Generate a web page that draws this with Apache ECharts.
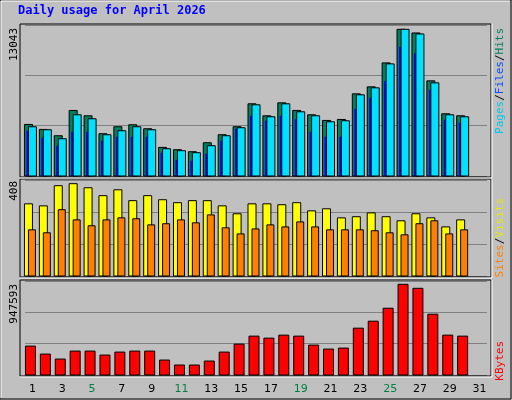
<!DOCTYPE html>
<html><head><meta charset="utf-8">
<script src="https://cdn.jsdelivr.net/npm/echarts@6/dist/echarts.min.js"></script>
<style>html,body{margin:0;padding:0;background:#c0c0c0}#c{width:512px;height:400px}</style>
</head><body><div id="c"></div>
<script>
const days = Array.from({length:31},(_,i)=>String(i+1));
const weekend = ['4','5','11','12','18','19','25','26'];
const hits = [4585,4141,3579,5827,5354,3757,4378,4555,4200,2544,2337,2159,2958,3668,4378,6419,5354,6507,5827,5443,4940,5028,7306,7927,10057,13043,12719,8459,5531,5354];
const files = [4378,4111,3313,5443,5088,3668,4023,4378,4111,2425,2248,2071,2692,3579,4289,6330,5265,6419,5709,5354,4821,4910,7217,7839,9968,13043,12630,8282,5443,5265];
const pages = [4023,3402,2692,3934,3934,3135,3490,3490,3490,2071,1449,1361,1982,3135,4200,5354,4910,5354,5088,3934,3490,3490,5975,6951,8459,11477,10915,7661,4999,4733];
const sites = [319,310,399,408,390,355,381,333,355,337,324,333,333,310,275,319,319,315,324,288,297,257,262,279,262,244,275,257,217,248];
const visits = [204,191,293,248,222,248,257,253,226,231,248,235,270,213,186,208,226,217,239,217,204,204,204,200,191,182,231,244,186,204];
const kbytes = [301977,218673,166608,249912,249912,208260,239499,249912,249912,156195,104130,104130,145782,239499,322803,406107,385281,416520,406107,312390,270738,281151,489411,562302,697671,947593,905931,635193,416520,406107];
const maxLabels = ['13043','408','947593'];

const ch = echarts.init(document.getElementById('c'));
const axMax = [13043*455/442, 408*287/276, 947593*283/273];
function bar(off, w, fill, stroke){
  return function(params, api){
    const top = api.coord([api.value(0), api.value(1)]);
    const base = api.coord([api.value(0), 0]);
    return {type:'rect', shape:{x:top[0]+off, y:top[1], width:w, height:base[1]-top[1]},
      style:{fill:fill, stroke:stroke, lineWidth:stroke?1:0}};
  };
}
function ser(data, idx, r, z){
  return {type:'custom', xAxisIndex:idx, yAxisIndex:idx, z:z, renderItem:r,
    encode:{x:0,y:1}, data:data.map((v,i)=>[i,v])};
}
const grids = [{top:25,height:151},{top:180,height:96},{top:281,height:94}].map(g=>({left:25,width:462,top:g.top,height:g.height}));
const panels = [[20,24,471,153],[20,179,471,98],[20,280,471,96]];
const mono = '"DejaVu Sans Mono", monospace';
ch.setOption({
  animation:false,
  backgroundColor:'#c0c0c0',
  grid:grids,
  xAxis:[0,1,2].map(i=>({type:'category', gridIndex:i, data:days, boundaryGap:true,
    axisLine:{show:false}, axisTick:{show:false}, splitLine:{show:false},
    axisLabel:{show:i===2, margin:9, fontSize:11, fontFamily:'DejaVu Sans',
      color:(v)=>weekend.includes(v)?'#008040':'#000'}})),
  yAxis:[0,1,2].map(i=>({type:'value', gridIndex:i, min:0, max:axMax[i], interval:axMax[i]/3,
    axisLabel:{show:false}, axisLine:{show:false}, axisTick:{show:false},
    splitLine:{lineStyle:{color:'#808080', width:1}}})),
  graphic:[
    {type:'rect', shape:{x:0,y:0,width:511,height:399}, style:{fill:'none', stroke:'#000', lineWidth:1}, z:-1},
    {type:'polyline', shape:{points:[[1,398],[1,1],[510,1]]}, style:{stroke:'#fff', lineWidth:1}},
    ...panels.map(p=>({type:'rect', shape:{x:p[0],y:p[1],width:p[2],height:p[3]}, style:{fill:'none', stroke:'#000', lineWidth:1}, z:10})),
    ...panels.map(p=>({type:'polyline', shape:{points:[[p[0]+p[2]+1,p[1]],[p[0]+p[2]+1,p[1]+p[3]+1],[p[0],p[1]+p[3]+1]]}, style:{stroke:'#fff', lineWidth:1}, z:10})),
    {type:'text', left:18, top:5, style:{text:'Daily usage for April 2026', font:'bold 12px '+mono, fill:'#0000ff'}},
    {type:'text', x:14, y:28, rotation:Math.PI/2, style:{text:maxLabels[0], font:'11px '+mono, fill:'#000', align:'right', verticalAlign:'middle'}},
    {type:'text', x:14, y:181, rotation:Math.PI/2, style:{text:maxLabels[1], font:'11px '+mono, fill:'#000', align:'right', verticalAlign:'middle'}},
    {type:'text', x:14, y:284, rotation:Math.PI/2, style:{text:maxLabels[2], font:'11px '+mono, fill:'#000', align:'right', verticalAlign:'middle'}},
    {type:'text', x:500, y:28, rotation:Math.PI/2, style:{text:'{p|Pages}{s|/}{f|Files}{s|/}{h|Hits}', align:'right', verticalAlign:'middle',
      rich:{p:{fill:'#00c8e8',font:'11px '+mono},f:{fill:'#0050ff',font:'11px '+mono},h:{fill:'#008060',font:'11px '+mono},s:{fill:'#000',font:'11px '+mono}}}},
    {type:'text', x:500, y:198, rotation:Math.PI/2, style:{text:'{a|Sites}{s|/}{b|Visits}', align:'right', verticalAlign:'middle',
      rich:{a:{fill:'#ff8000',font:'11px '+mono},b:{fill:'#e8e800',font:'11px '+mono},s:{fill:'#000',font:'11px '+mono}}}},
    {type:'text', x:500, y:341, rotation:Math.PI/2, style:{text:'KBytes', font:'11px '+mono, fill:'#ff0000', align:'right', verticalAlign:'middle'}}
  ],
  series:[
    ser(hits,0,bar(-8,8,'#008060','#000'),2),
    ser(pages,0,bar(-6,2,'#0000ff',null),3),
    ser(files,0,bar(-4,8,'#00e0ff','#000'),4),
    ser(sites,1,bar(-8,8,'#ffff00','#000'),2),
    ser(visits,1,bar(-4,7,'#ff8000','#000'),3),
    ser(kbytes,2,bar(-7,10,'#ff0000','#000'),2)
  ]
});
</script></body></html>
